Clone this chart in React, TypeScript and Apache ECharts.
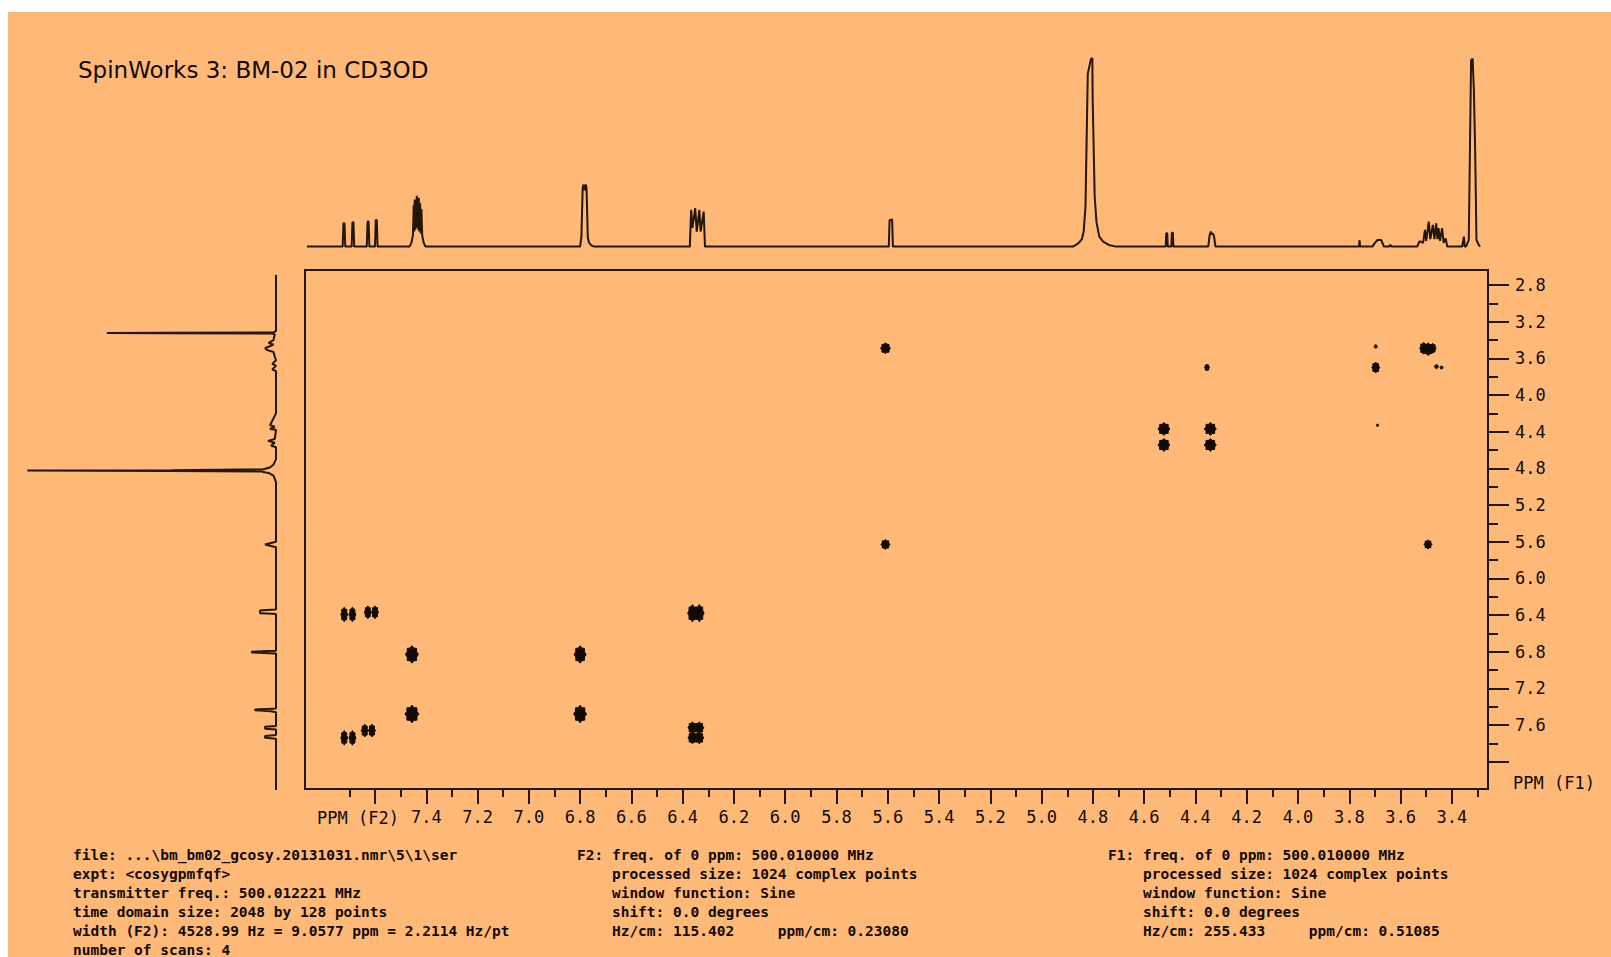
import React, { useEffect, useRef } from "react";
import * as echarts from "echarts";

// ---------- text ----------
const TITLE = "SpinWorks 3: BM-02 in CD3OD";
const F2_NAME = "PPM (F2)";
const F1_NAME = "PPM (F1)";
const FOOTER_1 = [
  "file: ...\\bm_bm02_gcosy.20131031.nmr\\5\\1\\ser",
  "expt: <cosygpmfqf>",
  "transmitter freq.: 500.012221 MHz",
  "time domain size: 2048 by 128 points",
  "width (F2): 4528.99 Hz = 9.0577 ppm = 2.2114 Hz/pt",
  "number of scans: 4",
];
const FOOTER_2 = [
  "F2: freq. of 0 ppm: 500.010000 MHz",
  "    processed size: 1024 complex points",
  "    window function: Sine",
  "    shift: 0.0 degrees",
  "    Hz/cm: 115.402     ppm/cm: 0.23080",
];
const FOOTER_3 = [
  "F1: freq. of 0 ppm: 500.010000 MHz",
  "    processed size: 1024 complex points",
  "    window function: Sine",
  "    shift: 0.0 degrees",
  "    Hz/cm: 255.433     ppm/cm: 0.51085",
];

// ---------- axes (ppm) ----------
const F2_EXTENT = [3.259, 7.873];
const F1_EXTENT = [2.636, 8.298];
const F2_MAJOR = [7.6, 7.4, 7.2, 7.0, 6.8, 6.6, 6.4, 6.2, 6.0, 5.8, 5.6, 5.4, 5.2, 5.0, 4.8, 4.6, 4.4, 4.2, 4.0, 3.8, 3.6, 3.4];
const F2_MINOR = [7.7, 7.5, 7.3, 7.1, 6.9, 6.7, 6.5, 6.3, 6.1, 5.9, 5.7, 5.5, 5.3, 5.1, 4.9, 4.7, 4.5, 4.3, 4.1, 3.9, 3.7, 3.5, 3.3];
const F2_LABELS = [7.4, 7.2, 7.0, 6.8, 6.6, 6.4, 6.2, 6.0, 5.8, 5.6, 5.4, 5.2, 5.0, 4.8, 4.6, 4.4, 4.2, 4.0, 3.8, 3.6, 3.4];
const F1_MAJOR = [2.8, 3.2, 3.6, 4.0, 4.4, 4.8, 5.2, 5.6, 6.0, 6.4, 6.8, 7.2, 7.6, 8.0];
const F1_MINOR = [3.0, 3.4, 3.8, 4.2, 4.6, 5.0, 5.4, 5.8, 6.2, 6.6, 7.0, 7.4, 7.8];
const F1_LABELS = [2.8, 3.2, 3.6, 4.0, 4.4, 4.8, 5.2, 5.6, 6.0, 6.4, 6.8, 7.2, 7.6];

// ---------- 1D projection along F2 (top): [ppm, relative intensity %] ----------
const F2_SPECTRUM: [number, number][] = [
  [7.865, 0],
  [7.726, 0], [7.723, 12.4], [7.719, 12.4], [7.716, 0],
  [7.691, 0], [7.688, 12.9], [7.684, 12.9], [7.681, 0],
  [7.632, 0], [7.629, 13.3], [7.625, 13.3], [7.622, 0],
  [7.6, 0], [7.597, 14.2], [7.593, 14.2], [7.59, 0],
  [7.465, 0], [7.458, 2], [7.452, 6], [7.449, 22], [7.447, 8], [7.445, 25], [7.443, 9], [7.441, 24], [7.439, 10],
  [7.437, 27], [7.435, 10], [7.433, 25], [7.431, 9], [7.429, 26], [7.427, 8], [7.424, 23], [7.421, 7], [7.419, 20],
  [7.416, 6], [7.41, 2], [7.403, 0],
  [6.8, 0], [6.795, 5], [6.79, 31], [6.787, 33], [6.783, 30], [6.778, 33], [6.775, 31], [6.77, 5], [6.765, 2], [6.755, 0.5], [6.745, 0],
  [6.372, 0], [6.367, 19.5], [6.362, 10], [6.351, 20.4], [6.345, 8], [6.335, 19.5], [6.33, 8], [6.318, 18.6], [6.313, 0],
  [5.596, 0], [5.593, 14], [5.583, 14.5], [5.58, 0],
  [4.877, 0], [4.856, 1.8], [4.843, 3.9], [4.836, 8], [4.829, 21], [4.82, 92], [4.807, 100], [4.802, 100], [4.801, 79], [4.793, 26.5], [4.786, 13], [4.775, 5.3], [4.76, 2.7], [4.738, 0.9], [4.71, 0],
  [4.516, 0], [4.514, 7.1], [4.51, 7.1], [4.508, 0],
  [4.494, 0], [4.492, 7.4], [4.488, 7.4], [4.486, 0],
  [4.35, 0], [4.345, 6], [4.34, 8], [4.336, 6.5], [4.331, 7], [4.327, 5], [4.322, 0],
  [3.762, 0], [3.76, 3.5], [3.758, 0],
  [3.71, 0], [3.7, 2], [3.69, 3.5], [3.675, 3.5], [3.665, 0],
  [3.645, 0], [3.64, 1], [3.635, 0],
  [3.535, 0], [3.527, 2.7], [3.522, 2.7], [3.512, 2], [3.505, 8.9], [3.5, 3], [3.49, 13.3], [3.484, 4], [3.474, 11.5], [3.468, 4], [3.461, 12.4], [3.456, 4], [3.452, 9.8], [3.446, 3], [3.438, 9.8], [3.432, 2], [3.424, 4.4], [3.418, 0],
  [3.36, 0], [3.353, 5.3], [3.35, 0],
  [3.345, 0], [3.334, 3.5], [3.325, 99], [3.319, 100], [3.314, 83], [3.309, 50], [3.304, 3.5], [3.295, 1], [3.29, 0],
];

// ---------- 1D projection along F1 (left): [ppm, relative intensity %] ----------
const F1_SPECTRUM: [number, number][] = [
  [2.69, 0],
  [3.3, 0], [3.318, 1], [3.321, 46], [3.323, 68], [3.325, 46], [3.328, 1.5], [3.34, 0.5],
  [3.4, 1], [3.43, 3], [3.45, 1], [3.49, 4.4], [3.51, 3.5], [3.53, 1], [3.58, 0.5], [3.62, 0],
  [3.66, 1.5], [3.68, 0], [3.72, 1.5], [3.74, 0],
  [4.2, 0], [4.33, 2.4], [4.345, 0.5], [4.37, 2.4], [4.38, 0], [4.48, 0.5], [4.5, 3.2], [4.52, 0.5], [4.55, 2], [4.57, 0],
  [4.7, 0], [4.76, 1], [4.79, 2.5], [4.81, 5], [4.82, 42], [4.824, 100], [4.828, 42], [4.835, 6], [4.85, 3], [4.88, 1], [4.95, 0],
  [5.6, 0], [5.63, 4.4], [5.66, 0],
  [6.34, 0], [6.35, 6.4], [6.36, 6.4], [6.37, 6.4], [6.38, 6.4], [6.39, 0],
  [6.79, 0], [6.8, 9.7], [6.81, 9.7], [6.82, 0],
  [7.42, 0], [7.43, 8.4], [7.44, 8.4], [7.45, 2], [7.46, 0],
  [7.61, 0], [7.62, 4.4], [7.63, 4.4], [7.64, 4.4], [7.65, 0],
  [7.71, 0], [7.72, 4.4], [7.73, 4.4], [7.74, 4.4], [7.75, 0],
  [8.31, 0],
];

// ---------- 2D cross peaks: [F2 ppm, F1 ppm, F2 width ppm, F1 width ppm] ----------
const CROSS_PEAKS: [number, number, number, number][] = [
  [5.609, 3.49, 0.039, 0.12],
  [5.609, 5.63, 0.035, 0.11],
  [3.697, 3.7, 0.031, 0.12],
  [3.697, 3.47, 0.012, 0.04],
  [3.51, 3.49, 0.031, 0.13],
  [3.492, 3.5, 0.035, 0.14],
  [3.475, 3.49, 0.027, 0.11],
  [3.46, 3.69, 0.016, 0.045],
  [3.44, 3.7, 0.012, 0.035],
  [4.355, 3.7, 0.02, 0.075],
  [4.523, 4.37, 0.047, 0.14],
  [4.523, 4.545, 0.047, 0.14],
  [4.342, 4.37, 0.047, 0.14],
  [4.342, 4.545, 0.047, 0.14],
  [3.69, 4.33, 0.008, 0.03],
  [3.493, 5.63, 0.031, 0.1],
  [7.72, 6.394, 0.027, 0.16],
  [7.688, 6.394, 0.027, 0.16],
  [7.628, 6.37, 0.027, 0.14],
  [7.6, 6.37, 0.027, 0.14],
  [6.362, 6.38, 0.037, 0.19],
  [6.335, 6.38, 0.037, 0.19],
  [7.456, 6.83, 0.051, 0.19],
  [6.8, 6.83, 0.047, 0.19],
  [7.456, 7.48, 0.055, 0.19],
  [6.8, 7.48, 0.051, 0.19],
  [7.72, 7.74, 0.027, 0.16],
  [7.688, 7.74, 0.027, 0.16],
  [7.64, 7.66, 0.027, 0.14],
  [7.612, 7.66, 0.027, 0.14],
  [6.362, 7.63, 0.035, 0.13],
  [6.335, 7.63, 0.035, 0.13],
  [6.362, 7.74, 0.035, 0.13],
  [6.335, 7.74, 0.035, 0.13],
];

const BG = "#FEB979";
const INK = "#241608";
const TEXT = "#120a03";
const MONO = "'DejaVu Sans Mono', monospace";
const SANS = "'DejaVu Sans', sans-serif";

// chart div sits at page (8, 12)
const OX = 8;
const OY = 12;

export default function App() {
  const ref = useRef<HTMLDivElement>(null);

  useEffect(() => {
    if (!ref.current) return;
    const chart = echarts.init(ref.current, null, { renderer: "svg" });

    const mainGrid = { left: 305 - OX, top: 270 - OY, width: 1183, height: 519 };
    const fmt = (v: number) => Number(v).toFixed(1);
    const tickFont = { color: TEXT, fontFamily: MONO, fontSize: 17 };

    const option: any = {
      animation: false,
      backgroundColor: BG,
      grid: [
        { ...mainGrid, show: true, borderColor: INK, borderWidth: 2, backgroundColor: "transparent" },
        { left: 305 - OX, top: 58.6 - OY, width: 1183, height: 188 },
        { left: 27.3 - OX, top: 270 - OY, width: 248.7, height: 519 },
      ],
      xAxis: [
        {
          gridIndex: 0, type: "value", position: "bottom", inverse: true,
          min: F2_EXTENT[0], max: F2_EXTENT[1],
          axisLine: { show: false },
          splitLine: { show: false },
          axisTick: { show: true, customValues: F2_MAJOR, length: 15, lineStyle: { color: INK, width: 2 } },
          axisLabel: { show: true, customValues: F2_LABELS, formatter: fmt, margin: 19, ...tickFont },
        },
        {
          gridIndex: 0, type: "value", position: "bottom", inverse: true,
          min: F2_EXTENT[0], max: F2_EXTENT[1],
          axisLine: { show: false },
          splitLine: { show: false },
          axisTick: { show: true, customValues: F2_MINOR, length: 8, lineStyle: { color: INK, width: 2 } },
          axisLabel: { show: false },
        },
        {
          gridIndex: 1, type: "value", show: false, inverse: true,
          min: F2_EXTENT[0], max: F2_EXTENT[1],
        },
        {
          gridIndex: 2, type: "value", show: false, inverse: true, min: 0, max: 100,
        },
      ],
      yAxis: [
        {
          gridIndex: 0, type: "value", position: "right", inverse: true,
          min: F1_EXTENT[0], max: F1_EXTENT[1],
          axisLine: { show: false },
          splitLine: { show: false },
          axisTick: { show: true, customValues: F1_MAJOR, length: 21, lineStyle: { color: INK, width: 2 } },
          axisLabel: { show: true, customValues: F1_LABELS, formatter: fmt, margin: 27, ...tickFont },
        },
        {
          gridIndex: 0, type: "value", position: "right", inverse: true,
          min: F1_EXTENT[0], max: F1_EXTENT[1],
          axisLine: { show: false },
          splitLine: { show: false },
          axisTick: { show: true, customValues: F1_MINOR, length: 10, lineStyle: { color: INK, width: 2 } },
          axisLabel: { show: false },
        },
        { gridIndex: 1, type: "value", show: false, min: 0, max: 100 },
        {
          gridIndex: 2, type: "value", show: false, inverse: true,
          min: F1_EXTENT[0], max: F1_EXTENT[1],
        },
      ],
      series: [
        {
          type: "custom",
          xAxisIndex: 0,
          yAxisIndex: 0,
          data: CROSS_PEAKS,
          encode: { x: 0, y: 1 },
          clip: true,
          renderItem: (params: any, api: any) => {
            const c = api.coord([api.value(0), api.value(1)]);
            const s = api.size([api.value(2), api.value(3)]);
            const rx = Math.abs(s[0]) / 2;
            const ry = Math.abs(s[1]) / 2;
            // jagged contour-like outline around the peak centre
            const n = 16;
            const pts: number[][] = [];
            for (let i = 0; i < n; i++) {
              const a = (i / n) * Math.PI * 2;
              const r = i % 2 === 0 ? 1 : 0.78;
              pts.push([c[0] + Math.cos(a) * rx * r, c[1] + Math.sin(a) * ry * r]);
            }
            return {
              type: "polygon",
              shape: { points: pts },
              style: { fill: "#120a03", stroke: "#120a03", lineWidth: 1 },
            };
          },
        },
        {
          type: "line",
          xAxisIndex: 2,
          yAxisIndex: 2,
          data: F2_SPECTRUM,
          showSymbol: false,
          clip: false,
          lineStyle: { color: INK, width: 2 },
        },
        {
          type: "line",
          xAxisIndex: 3,
          yAxisIndex: 3,
          data: F1_SPECTRUM.map(([ppm, v]) => [v, ppm]),
          showSymbol: false,
          clip: false,
          lineStyle: { color: INK, width: 2 },
        },
      ],
      graphic: [
        {
          type: "text", x: 78 - OX, y: 70 - OY,
          style: { text: TITLE, fill: TEXT, font: `23px ${SANS}`, textVerticalAlign: "middle" },
        },
        {
          type: "text", x: 358 - OX, y: 818 - OY,
          style: { text: F2_NAME, fill: TEXT, font: `17px ${MONO}`, textAlign: "center", textVerticalAlign: "middle" },
        },
        {
          type: "text", x: 1513 - OX, y: 783 - OY,
          style: { text: F1_NAME, fill: TEXT, font: `17px ${MONO}`, textAlign: "left", textVerticalAlign: "middle" },
        },
        {
          type: "text", x: 73 - OX, y: 855 - OY - 9.5,
          style: { text: FOOTER_1.join("\n"), fill: TEXT, font: `bold 14.5px ${MONO}`, lineHeight: 19, textVerticalAlign: "top" },
        },
        {
          type: "text", x: 577 - OX, y: 855 - OY - 9.5,
          style: { text: FOOTER_2.join("\n"), fill: TEXT, font: `bold 14.5px ${MONO}`, lineHeight: 19, textVerticalAlign: "top" },
        },
        {
          type: "text", x: 1108 - OX, y: 855 - OY - 9.5,
          style: { text: FOOTER_3.join("\n"), fill: TEXT, font: `bold 14.5px ${MONO}`, lineHeight: 19, textVerticalAlign: "top" },
        },
      ],
    };

    chart.setOption(option);
    return () => chart.dispose();
  }, []);

  return (
    <div
      ref={ref}
      style={{ position: "fixed", left: OX, top: OY, width: 1611 - OX, height: 957 - OY }}
    />
  );
}
